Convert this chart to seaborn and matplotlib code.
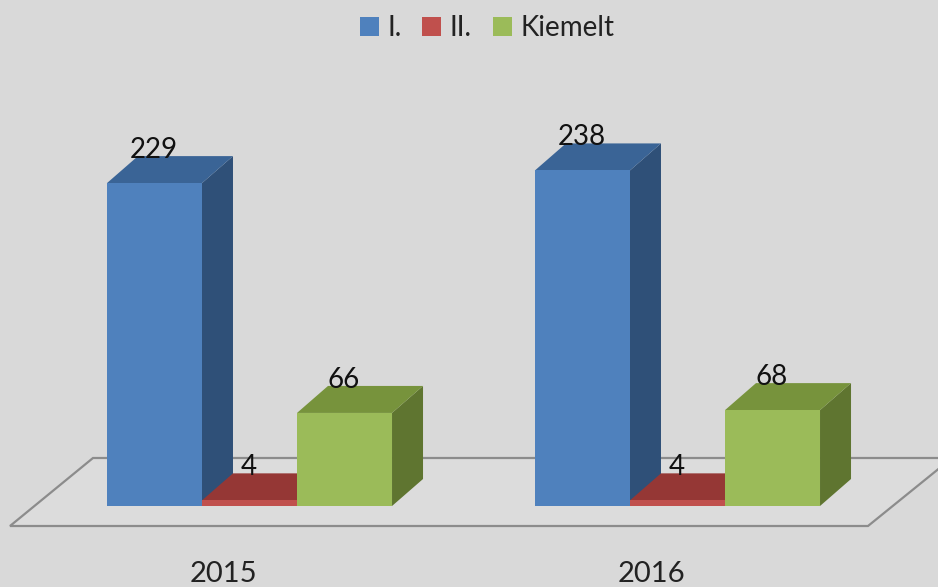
import pandas as pd
import seaborn as sns
import matplotlib.pyplot as plt
from matplotlib.patches import Polygon

years = ["2015", "2016"]
series = ["I.", "II.", "Kiemelt"]
values_1 = [229, 238]
values_2 = [4, 4]
values_3 = [66, 68]

colors = ["#4F81BD", "#C0504D", "#9BBB59"]
top_colors = ["#3A6496", "#953735", "#77933C"]
side_colors = ["#2F5078", "#7F2F2D", "#5F7530"]
bg = "#D9D9D9"

sns.set_theme(style="white")
plt.rcParams["font.family"] = ["Lato", "DejaVu Sans"]

df = pd.DataFrame({
    "year": years * 3,
    "series": [s for s in series for _ in years],
    "value": values_1 + values_2 + values_3,
})

fig = plt.figure(figsize=(9.38, 5.87), dpi=100, facecolor=bg)
ax = fig.add_axes([0, 0, 1, 1], facecolor=bg)

sns.barplot(data=df, x="year", y="value", hue="series", hue_order=series,
            palette=colors, width=0.666, gap=0, saturation=1, ax=ax,
            linewidth=0, errorbar=None, legend=False)

# pixel scale of the original picture
px_x = 428.0
px_y = 1.41
ax.set_xlim(-249.5 / px_x, (938 - 249.5) / px_x)
ax.set_ylim((506 - 587) / px_y, 506 / px_y)
ax.axis("off")

dx = 31 / px_x
dy = 27 / px_y

# floor
to_x = lambda p: (p - 249.5) / px_x
to_y = lambda p: (506 - p) / px_y
floor = [(to_x(10), to_y(526)), (to_x(93), to_y(458)), (to_x(952), to_y(458)), (to_x(868), to_y(526))]
ax.add_patch(Polygon(floor, closed=True, facecolor="#DCDCDC", edgecolor="#8C8C8C", lw=1.6, zorder=1))

# fake 3d faces from the bars seaborn drew
z = 2
for cat in range(len(years)):
    for i, cont in enumerate(ax.containers):
        bar = cont[cat]
        x0, w, h = bar.get_x(), bar.get_width(), bar.get_height()
        x1 = x0 + w
        side = [(x1, 0), (x1 + dx, dy), (x1 + dx, h + dy), (x1, h)]
        top = [(x0, h), (x0 + dx, h + dy), (x1 + dx, h + dy), (x1, h)]
        ax.add_patch(Polygon(side, closed=True, facecolor=side_colors[i], lw=0, zorder=z))
        ax.add_patch(Polygon(top, closed=True, facecolor=top_colors[i], lw=0, zorder=z + 0.5))
        bar.set_zorder(50)
        z += 1

for cont in ax.containers:
    labels = ax.bar_label(cont, padding=14.5, fontsize=20, color="#111111", zorder=60)
    for t in labels:
        t.xyann = (-0.5, t.xyann[1])

# the year labels sit left of the group centre in the original
for i, y in enumerate(years):
    ax.text(i - 26 / px_x, to_y(574), y, ha="center", va="center", fontsize=21, color="#222222")

handles = [plt.Rectangle((0, 0), 1, 1, facecolor=c, linewidth=0) for c in colors]
ax.legend(handles, series, loc="upper center", bbox_to_anchor=(0.519, 1.017), ncol=3, frameon=False,
          fontsize=20, handlelength=0.69, handleheight=0.69, handletextpad=0.3, columnspacing=0.75,
          labelcolor="#222222")

fig.savefig("out.png", dpi=100, facecolor=bg)
